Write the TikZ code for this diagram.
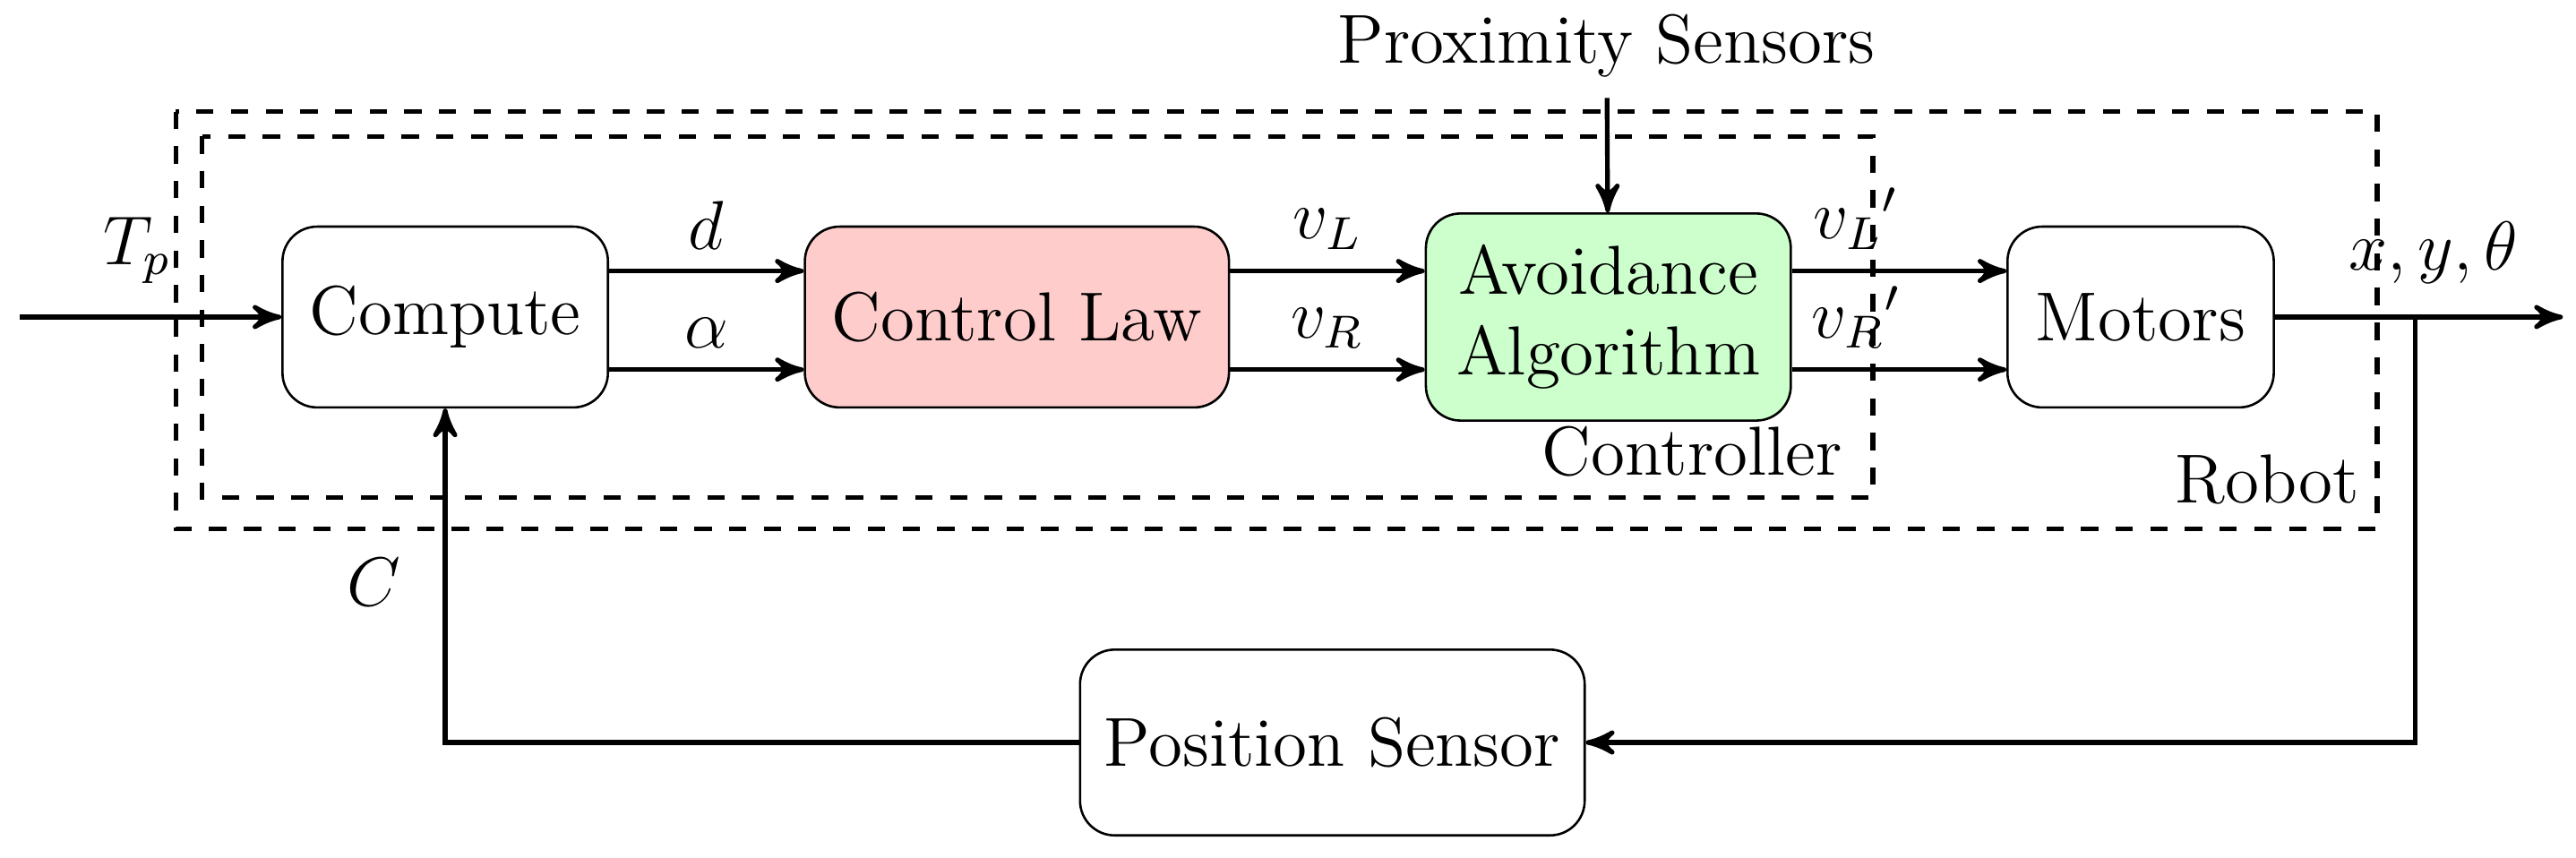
\documentclass[tikz,border=0pt]{standalone}
\usetikzlibrary{arrows}
\definecolor{lawred}{RGB}{255,204,204}
\definecolor{avgreen}{RGB}{204,255,204}
\begin{document}
\begin{tikzpicture}[x=0.01cm,y=-0.01cm,>=stealth',font=\large,
  block/.style={draw,rounded corners=6pt,align=center,inner sep=0pt}]
\useasboundingbox (0,0) rectangle (1568,522);
% frames
\draw[dashed,thick] (107,68) rectangle (1447,322);
\draw[dashed,thick] (123,83) rectangle (1140,303);
\node (ctl) at (1030,275) {Controller};
\node (rob) at (1380,292) {Robot};
% blocks
\node[block,minimum width=1.98cm,minimum height=1.1cm] (comp) at (271,193) {Compute};
\node[block,fill=lawred,minimum width=2.58cm,minimum height=1.1cm] (law) at (619,193) {Control Law};
\node[block,fill=avgreen,minimum width=2.22cm,minimum height=1.26cm] (avoid) at (979,193) {Avoidance\\Algorithm};
\node[block,minimum width=1.62cm,minimum height=1.1cm] (mot) at (1303,193) {Motors};
\node[block,minimum width=3.07cm,minimum height=1.13cm] (pos) at (811,452) {Position Sensor};
\node (prox) at (978,28) {Proximity Sensors};
\coordinate (in) at (12,193);
\coordinate (out) at (1560,193);
\coordinate (tap) at (1470,193);
% signals
\draw[thick,->] (in) -- (comp) node[pos=0.45,above=2pt] {$T_p$};
\draw[thick,->] (prox) -- (avoid);
\draw[thick,->] ([yshift=0.28cm]comp.east) -- ([yshift=0.28cm]law.west) node[midway,above] {$d$};
\draw[thick,->] ([yshift=-0.32cm]comp.east) -- ([yshift=-0.32cm]law.west) node[midway,above] {$\alpha$};
\draw[thick,->] ([yshift=0.28cm]law.east) -- ([yshift=0.28cm]avoid.west) node[midway,above] {$v_L$};
\draw[thick,->] ([yshift=-0.32cm]law.east) -- ([yshift=-0.32cm]avoid.west) node[midway,above] {$v_R$};
\draw[thick,->] ([yshift=0.28cm]avoid.east) -- ([yshift=0.28cm]mot.west) node[pos=0.3,above] {${v_L}'$};
\draw[thick,->] ([yshift=-0.32cm]avoid.east) -- ([yshift=-0.32cm]mot.west) node[pos=0.3,above] {${v_R}'$};
\draw[thick,->] (mot) -- (out) node[pos=0.55,above=2pt] {$x,y,\theta$};
\draw[thick,->] (tap) |- (pos);
\draw[thick,->] (pos) -| (comp) node[pos=0.74,left=4pt] {$C$};
\end{tikzpicture}
\end{document}
